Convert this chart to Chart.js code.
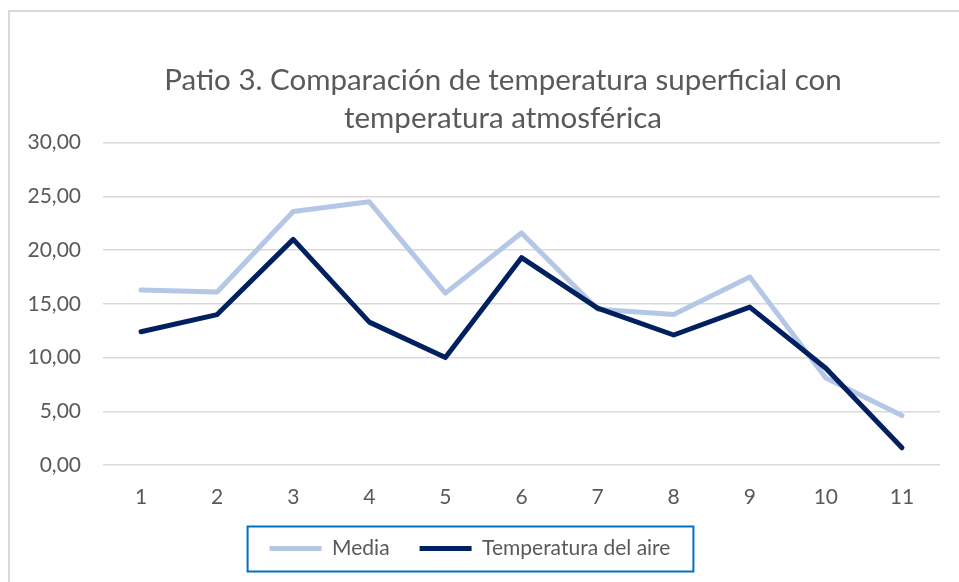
<!DOCTYPE html>
<html>
<head>
<meta charset="utf-8">
<script src="https://cdn.jsdelivr.net/npm/chart.js@4.4.1/dist/chart.umd.min.js"></script>
<style>
  html, body { margin: 0; padding: 0; background: #fff; overflow: hidden; }
  #frame {
    position: absolute; left: 8px; top: 10px; width: 1000px; height: 620px;
    border-left: 2px solid #d9d9d9; border-top: 2px solid #d9d9d9;
  }
  #wrap { position: absolute; left: 0; top: 0; width: 959px; height: 582px; }
</style>
</head>
<body>
<div id="frame"></div>
<div id="wrap"><canvas id="myChart" width="959" height="582"></canvas></div>
<script>
const categories = ["1", "2", "3", "4", "5", "6", "7", "8", "9", "10", "11"];
const media = [16.3, 16.1, 23.6, 24.5, 16.0, 21.6, 14.5, 14.0, 17.5, 8.1, 4.6];
const temperatura_aire = [12.4, 14.0, 21.0, 13.3, 10.0, 19.3, 14.6, 12.1, 14.7, 9.0, 1.6];
const title_lines = [
  "Patio 3. Comparación de temperatura superficial con",
  "temperatura atmosférica",
];

const text_color = "#595959";
const font_family = "Lato, 'Open Sans', sans-serif";

// legend frame + title nudge (title sits right of legend in the original)
const legendBox = {
  id: "legendBox",
  afterLayout(chart) {
    chart.titleBlock.left += 33;
    chart.titleBlock.right += 33;
  },
  afterDraw(chart) {
    let hb = chart.legend.legendHitBoxes;
    if (!hb || !hb.length) return;
    let left = hb[0].left - 22;
    let right = hb[hb.length - 1].left + hb[hb.length - 1].width + 23;
    let mid = hb[0].top + hb[0].height / 2;
    let ctx = chart.ctx;
    ctx.save();
    ctx.strokeStyle = "#0070c0";
    ctx.lineWidth = 2;
    ctx.strokeRect(left, mid - 22, right - left, 45);
    ctx.restore();
  },
};

let ctx = document.getElementById("myChart").getContext("2d");
let myChart = new Chart(ctx, {
  type: "line",
  data: {
    labels: categories,
    datasets: [
      {
        label: "Media",
        data: media,
        borderColor: "#b4c7e7",
        backgroundColor: "#b4c7e7",
        borderWidth: 5,
        pointRadius: 0,
        tension: 0,
        borderJoinStyle: "round",
        borderCapStyle: "round",
        order: 1,
      },
      {
        label: "Temperatura del aire",
        data: temperatura_aire,
        borderColor: "#002060",
        backgroundColor: "#002060",
        borderWidth: 5,
        pointRadius: 0,
        tension: 0,
        borderJoinStyle: "round",
        borderCapStyle: "round",
        order: 0,
      },
    ],
  },
  options: {
    responsive: false,
    animation: false,
    layout: { padding: { left: 0, right: 19, top: 0, bottom: 13 } },
    plugins: {
      title: {
        display: true,
        text: title_lines,
        color: text_color,
        font: { family: font_family, size: 29.5, weight: "normal", lineHeight: 1.3 },
        padding: { top: 61, bottom: 5 },
      },
      legend: {
        position: "bottom",
        labels: {
          color: text_color,
          font: { family: font_family, size: 21 },
          boxWidth: 52,
          boxHeight: 5,
          padding: 30,
          useBorderRadius: true,
          borderRadius: 2.5,
          generateLabels(chart) {
            return chart.data.datasets.map((ds, i) => ({
              text: ds.label,
              fillStyle: ds.borderColor,
              strokeStyle: ds.borderColor,
              lineWidth: 0,
              fontColor: text_color,
              datasetIndex: i,
              hidden: false,
            }));
          },
        },
      },
      tooltip: { enabled: false },
    },
    scales: {
      x: {
        offset: true,
        afterFit(scale) {
          scale.height = 43;
        },
        grid: { display: false },
        border: { display: false },
        ticks: {
          color: text_color,
          font: { family: font_family, size: 21 },
          padding: 12,
          maxRotation: 0,
        },
      },
      y: {
        min: 0,
        max: 30,
        afterFit(scale) {
          scale.width = 103;
        },
        grid: { color: "#d9d9d9", lineWidth: 1.5, drawTicks: false },
        border: { display: false },
        ticks: {
          stepSize: 5,
          color: text_color,
          font: { family: font_family, size: 21 },
          padding: 22,
          callback: (v) => v.toFixed(2).replace(".", ","),
        },
      },
    },
  },
  plugins: [legendBox],
});
</script>
</body>
</html>
